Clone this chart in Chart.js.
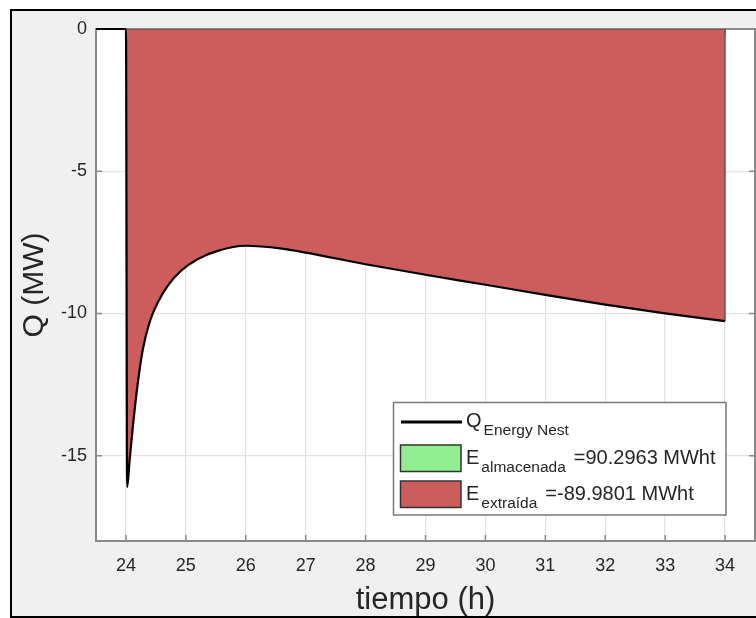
<!DOCTYPE html>
<html>
<head>
<meta charset="utf-8">
<script src="https://cdn.jsdelivr.net/npm/chart.js@4.4.0/dist/chart.umd.min.js"></script>
<style>
  html, body { margin: 0; padding: 0; background: #fff; }
  #wrap { width: 756px; height: 618px; }
</style>
</head>
<body>
<div id="wrap"><canvas id="chartQ" width="756" height="618"></canvas></div>
<script>
// values
const timeH = [23.5, 24, 24.02, 24.06, 24.117, 24.2, 24.283, 24.395, 24.533, 24.7, 24.92, 25.2, 25.53, 26, 26.6, 27, 28, 29, 30, 31, 32, 33, 34];
const qMW = [0, 0, -16.1, -15.2, -13.94, -12.41, -11.25, -10.31, -9.61, -9.02, -8.5, -8.09, -7.8, -7.62, -7.72, -7.86, -8.27, -8.64, -8.99, -9.35, -9.69, -10.0, -10.27];
const fillStart = 24;
const xTicks = [24, 25, 26, 27, 28, 29, 30, 31, 32, 33, 34];
const yTicks = [0, -5, -10, -15];
const legendMain = ["Q", "E", "E"];
const legendSub = ["Energy Nest", "almacenada", "extraída"];
const legendTail = ["", "=90.2963 MWht", "=-89.9801 MWht"];

const FONT = "'Liberation Sans', Arial, Helvetica, sans-serif";
const TEXT = "#262626";
const AXIS = "#8a8a8a";
const RED = "#cd5c5c";
const GREEN = "#90ee90";

const curve = timeH.map((x, i) => ({ x: x, y: qMW[i] }));
const fillPts = curve.filter((p) => p.x >= fillStart);
const lastPt = fillPts[fillPts.length - 1];
const edgePts = [
  { x: fillStart, y: 0 },
  { x: lastPt.x, y: 0 },
  { x: lastPt.x, y: lastPt.y },
];

const frame = {
  id: "frame",
  beforeDraw(chart) {
    const { ctx, chartArea: a } = chart;
    ctx.save();
    ctx.fillStyle = "#ffffff";
    ctx.fillRect(0, 0, chart.width, chart.height);
    ctx.fillStyle = "#f0f0f0";
    ctx.fillRect(11, 10, chart.width, chart.height);
    ctx.strokeStyle = "#000";
    ctx.lineWidth = 2;
    ctx.strokeRect(11, 10, chart.width + 10, chart.height - 11);
    ctx.fillStyle = "#ffffff";
    ctx.fillRect(a.left, a.top, a.right - a.left, a.bottom - a.top);
    ctx.restore();
  },
  beforeDatasetsDraw(chart) {
    const { ctx, chartArea: a, scales } = chart;
    ctx.save();
    ctx.strokeStyle = AXIS;
    ctx.lineWidth = 1.5;
    ctx.beginPath();
    xTicks.forEach((v) => {
      const px = scales.x.getPixelForValue(v);
      ctx.moveTo(px, a.bottom);
      ctx.lineTo(px, a.bottom - 6);
      ctx.moveTo(px, a.top);
      ctx.lineTo(px, a.top + 6);
    });
    yTicks.forEach((v) => {
      const py = scales.y.getPixelForValue(v);
      ctx.moveTo(a.left, py);
      ctx.lineTo(a.left + 6, py);
      ctx.moveTo(a.right, py);
      ctx.lineTo(a.right - 6, py);
    });
    ctx.stroke();
    ctx.lineWidth = 2;
    ctx.strokeRect(a.left, a.top, a.right - a.left, a.bottom - a.top);
    ctx.restore();
  },
};

const legendBox = {
  id: "legendBox",
  afterDraw(chart) {
    const ctx = chart.ctx;
    const bx = 393.5, by = 402.5, bw = 332.5, bh = 112.5;
    const rows = [427, 463.5, 499.5];
    ctx.save();
    ctx.fillStyle = "#ffffff";
    ctx.fillRect(bx, by, bw, bh);
    ctx.strokeStyle = "#7a7a7a";
    ctx.lineWidth = 1.5;
    ctx.strokeRect(bx, by, bw, bh);

    // line sample
    ctx.strokeStyle = "#000";
    ctx.lineWidth = 3;
    ctx.beginPath();
    ctx.moveTo(401, 422);
    ctx.lineTo(462, 422);
    ctx.stroke();

    // patch samples
    ctx.lineWidth = 1.5;
    ctx.strokeStyle = "#333";
    ctx.fillStyle = GREEN;
    ctx.fillRect(400.5, 445, 60.5, 26.5);
    ctx.strokeRect(400.5, 445, 60.5, 26.5);
    ctx.fillStyle = RED;
    ctx.fillRect(400.5, 481, 60.5, 26.5);
    ctx.strokeRect(400.5, 481, 60.5, 26.5);

    ctx.fillStyle = TEXT;
    ctx.textBaseline = "alphabetic";
    ctx.textAlign = "left";
    legendMain.forEach((m, i) => {
      let x = 466;
      const base = rows[i];
      ctx.font = "20px " + FONT;
      ctx.fillText(m, x, base);
      x += ctx.measureText(m).width + 2;
      ctx.font = "15.5px " + FONT;
      ctx.fillText(legendSub[i], x, base + 8);
      x += ctx.measureText(legendSub[i]).width + 8;
      ctx.font = "20px " + FONT;
      ctx.fillText(legendTail[i], x, base);
    });
    ctx.restore();
  },
};

new Chart(document.getElementById("chartQ"), {
  type: "line",
  data: {
    datasets: [
      {
        label: "E extraída",
        data: fillPts,
        borderWidth: 0,
        borderColor: "rgba(0,0,0,0)",
        backgroundColor: RED,
        fill: { value: 0 },
        pointRadius: 0,
        cubicInterpolationMode: "monotone",
        order: 3,
      },
      {
        label: "edge",
        data: edgePts,
        borderColor: "#4a4a4a",
        borderWidth: 1.2,
        fill: false,
        pointRadius: 0,
        tension: 0,
        order: 2,
      },
      {
        label: "Q Energy Nest",
        data: curve,
        borderColor: "#000",
        borderWidth: 2.2,
        fill: false,
        pointRadius: 0,
        cubicInterpolationMode: "monotone",
        clip: 4,
        order: 1,
      },
    ],
  },
  options: {
    responsive: false,
    animation: false,
    layout: { padding: { left: 0, top: 29, right: 1, bottom: 0 } },
    plugins: {
      legend: { display: false },
      tooltip: { enabled: false },
    },
    scales: {
      x: {
        type: "linear",
        min: 23.5,
        max: 34.5,
        afterBuildTicks: (s) => { s.ticks = xTicks.map((v) => ({ value: v })); },
        afterFit: (s) => { s.height = 77; },
        grid: { color: "#e3e3e3", lineWidth: 1.3, drawTicks: false },
        border: { display: false },
        ticks: { color: TEXT, font: { family: FONT, size: 18 }, padding: 14, maxRotation: 0 },
        title: {
          display: true,
          text: "tiempo (h)",
          color: TEXT,
          font: { family: FONT, size: 31, lineHeight: 1 },
          padding: { top: 0, bottom: 2 },
        },
      },
      y: {
        min: -18,
        max: 0,
        afterBuildTicks: (s) => { s.ticks = yTicks.map((v) => ({ value: v })); },
        afterFit: (s) => { s.width = 96; },
        grid: { color: "#e3e3e3", lineWidth: 1.3, drawTicks: false },
        border: { display: false },
        ticks: { color: TEXT, font: { family: FONT, size: 18 }, padding: 9 },
        title: {
          display: true,
          text: "Q (MW)",
          color: TEXT,
          font: { family: FONT, size: 30, lineHeight: 1 },
          padding: { top: 20, bottom: 0 },
        },
      },
    },
  },
  plugins: [frame, legendBox],
});
</script>
</body>
</html>
